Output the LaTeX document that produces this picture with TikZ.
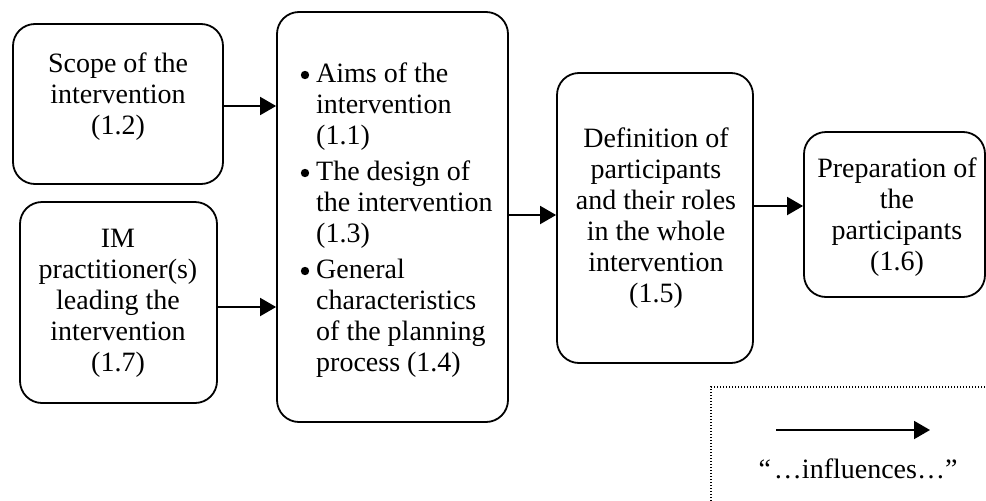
\documentclass[tikz,border=0pt]{standalone}
\usepackage{fontspec}
\setmainfont{Liberation Serif}
\usetikzlibrary{arrows.meta}
\begin{document}
\begin{tikzpicture}[x=1pt,y=-1pt,
  box/.style={draw, line width=1.8pt, rounded corners=22pt, inner sep=0pt},
  txt/.style={inner sep=0pt, align=center, font=\fontsize{28}{31}\selectfont},
  arr/.style={line width=1.9pt, -{Triangle[length=16pt,width=18pt]}},
  legendframe/.style={line width=1.4pt, dash pattern=on 1.4pt off 1.6pt},
  dotmark/.style={fill=black},
]
\useasboundingbox (0,0) rectangle (986,501);

% boxes
\node[box, minimum width=210, minimum height=160] (scope) at (118,104) {};
\node[box, minimum width=197, minimum height=201] (lead) at (118.5,302.5) {};
\node[box, minimum width=231, minimum height=410] (mid) at (392.5,217) {};
\node[box, minimum width=196, minimum height=290] (def) at (655,218) {};
\node[box, minimum width=181, minimum height=165] (prep) at (894.5,214.5) {};

% box texts
\node[txt] (scopeT) at (118,96.5) {Scope of the\\intervention\\(1.2)};
\node[txt] (leadT) at (118,303) {IM\\practitioner(s)\\leading the\\intervention\\(1.7)};
\node[txt, anchor=base west] (midT) at (316,82) {%
  \begin{tabular}[t]{@{}l@{}}
  Aims of the\\
  intervention\\
  (1.1)\\[5pt]
  The design of\\
  the intervention\\
  (1.3)\\[5pt]
  General\\
  characteristics\\
  of the planning\\
  process (1.4)
  \end{tabular}};
% bullets of the three items
\fill[dotmark] (305,75) circle [radius=4.2pt];
\fill[dotmark] (305,173) circle [radius=4.2pt];
\fill[dotmark] (305,271) circle [radius=4.2pt];

\node[txt] (defT) at (656,218) {Definition of\\participants\\and their roles\\in the whole\\intervention\\(1.5)};
\node[txt] (prepT) at (897,217) {Preparation of\\the\\participants\\(1.6)};

% connectors
\draw[arr] (scope.east |- 0,106) -- (mid.west |- 0,106);
\draw[arr] (lead.east |- 0,307) -- (mid.west |- 0,307);
\draw[arr] (mid.east |- 0,215) -- (def.west |- 0,215);
\draw[arr] (def.east |- 0,206) -- (prep.west |- 0,206);

% legend
\draw[legendframe] (711,501) -- (711,387) -- (986,387);
\coordinate (legS) at (776,430);
\coordinate (legE) at (930,430);
\draw[arr] (legS) -- (legE);
\node[txt, anchor=base] (legT) at (858,478) {“\kern3pt…influences…”};
\end{tikzpicture}
\end{document}
